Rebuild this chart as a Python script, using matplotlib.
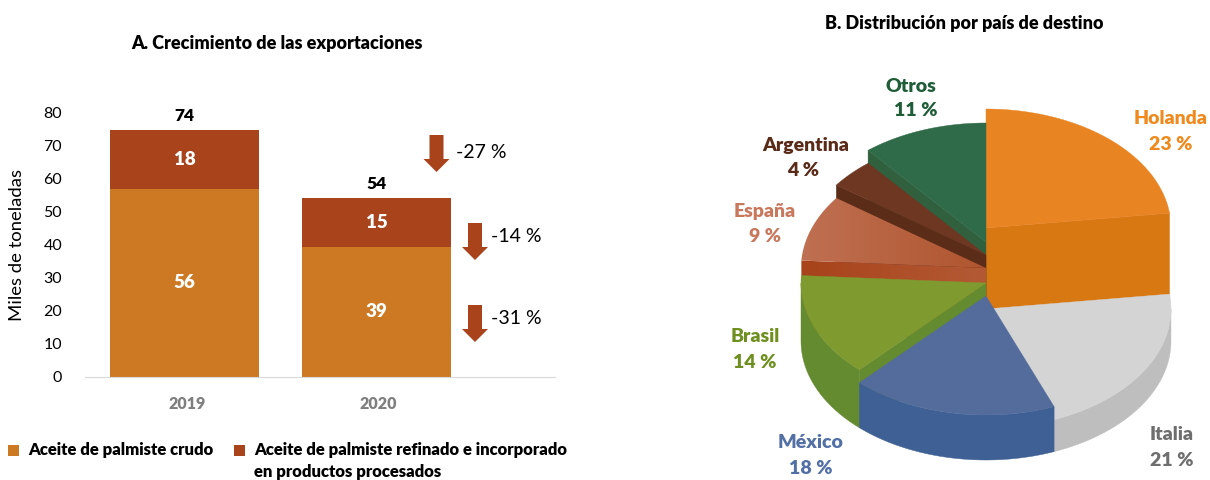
#!/usr/bin/env python3
# exportaciones de aceite de palmiste: barras apiladas y torta 3D
import numpy as np
import matplotlib
matplotlib.use('Agg')
import matplotlib.pyplot as plt
from matplotlib.patches import Polygon, Rectangle, FancyArrow

plt.rcParams['font.family'] = ['Lato', 'DejaVu Sans']

# data panel A
years = ['2019', '2020']
crudo = [56.8, 39.3]
refinado = [17.8, 14.7]
crudo_labels = ['56', '39']
refinado_labels = ['18', '15']
total_labels = ['74', '54']
variaciones = ['-27 %', '-14 %', '-31 %']

# data panel B
paises = ['Holanda', 'Italia', 'México', 'Brasil', 'España', 'Argentina', 'Otros']
shares = [23, 21, 18, 14, 9, 4, 11]

# colours
c_crudo = '#CD7822'
c_refinado = '#A9431C'
top_col = ['#E98423', '#D4D4D4', '#546C9C', '#7F9A2F', '#B9674A', '#6E3722', '#2F6B48']
side_col = ['#D87813', '#BEBEBE', '#3E6094', '#648B2F', '#AE4A22', '#5B2C18', '#31603F']
text_col = ['#EE8A1E', '#6E6E6E', '#5370A6', '#6F9020', '#C8785C', '#5A2A18', '#1F5C38']

W, H = 1210, 480
fig = plt.figure(figsize=(W / 100, H / 100), dpi=100)

# overlay in pixel coords for the pie, titles, legend
ov = fig.add_axes([0, 0, 1, 1])
ov.set_xlim(0, W)
ov.set_ylim(H, 0)
ov.axis('off')

# panel A
left, right, y0, y80 = 85, 555, 377, 112
ax = fig.add_axes([left / W, 1 - y0 / H, (right - left) / W, (y0 - y80) / H])
ax.patch.set_alpha(0)
x = np.arange(len(years))
ax.bar(x, crudo, width=0.776, color=c_crudo)
ax.bar(x, refinado, width=0.776, bottom=crudo, color=c_refinado)
ax.set_xlim(-0.518, 1.93)
ax.set_ylim(0, 80)
ax.set_yticks(range(0, 81, 10))
ax.set_xticks(x + 0.012)
ax.set_xticklabels(years, fontsize=11.5, fontweight='heavy', color='#7F7F7F')
ax.tick_params(axis='both', length=0)
ax.tick_params(axis='y', labelsize=11.5, pad=16.5)
ax.tick_params(axis='x', pad=14)
for s in ['top', 'left', 'right']:
    ax.spines[s].set_visible(False)
ax.spines['bottom'].set_color('#D9D9D9')
ov.text(17, 245, 'Miles de toneladas', rotation=90, fontsize=13.3, ha='center', va='center')

for i in x:
    ax.text(i, crudo[i] / 2, crudo_labels[i], color='white', fontweight='heavy',
            fontsize=13.5, ha='center', va='center')
    ax.text(i, crudo[i] + refinado[i] / 2, refinado_labels[i], color='white', fontweight='heavy',
            fontsize=13.5, ha='center', va='center')
    ax.text(i, crudo[i] + refinado[i] + 1.9, total_labels[i], color='black', fontweight='heavy',
            fontsize=12.5, ha='center', va='bottom')

# arrows next to the bars
arrow_pos = [(436.5, 135, 456, 153), (475, 223, 491, 237), (475, 305, 491, 319)]
for (ax_x, ax_y, tx, ty), lab in zip(arrow_pos, variaciones):
    ov.add_patch(FancyArrow(ax_x, ax_y, 0, 37, width=14, head_width=26, head_length=13,
                            length_includes_head=True, color=c_refinado, lw=0))
    ov.text(tx, ty, lab, fontsize=14, ha='left', va='center')

ov.text(277, 43, 'A. Crecimiento de las exportaciones', fontsize=13, fontweight='heavy',
        ha='center', va='center')
ov.text(964, 24, 'B. Distribución por país de destino', fontsize=13, fontweight='heavy',
        ha='center', va='center')

# legend
ov.add_patch(Rectangle((8, 445), 11, 11, color=c_crudo, lw=0))
ov.add_patch(Rectangle((234, 445), 11, 11, color=c_refinado, lw=0))
ov.text(28, 450, 'Aceite de palmiste crudo', fontsize=12, fontweight='heavy', va='center')
ov.text(254, 450, 'Aceite de palmiste refinado e incorporado', fontsize=12, fontweight='heavy', va='center')
ov.text(254, 472, 'en productos procesados', fontsize=12, fontweight='heavy', va='center')

# panel B: every slice sits on the same base ellipse, top raised stepwise
cx, base_y, rx, ry = 986, 341, 185, 119
apex_y = [228, 309, 296, 283, 268, 255, 242]
draw_order = [0, 6, 5, 4, 3, 1, 2]

edges = np.cumsum([0] + shares) / sum(shares) * 360


def rim(a1, a2, y):
    t = np.radians(np.linspace(a1, a2, 80))
    return np.column_stack([cx + rx * np.sin(t), y - ry * np.cos(t)])


def gradient_fill(poly, c1, c2, zorder):
    # horizontal gradient clipped to the polygon
    patch = Polygon(poly, closed=True, fc='none', ec='none', transform=ov.transData)
    ov.add_patch(patch)
    img = np.array([np.linspace(0, 1, 64)])
    cm = matplotlib.colors.LinearSegmentedColormap.from_list('g', [c1, c2])
    im = ov.imshow(img, extent=[poly[:, 0].min(), poly[:, 0].max(), poly[:, 1].max(), poly[:, 1].min()],
                   cmap=cm, aspect='auto', zorder=zorder)
    im.set_clip_path(patch)
    ov.set_xlim(0, W)
    ov.set_ylim(H, 0)


z = 2
for i in draw_order:
    a1, a2 = edges[i], edges[i + 1]
    ya = apex_y[i]
    h = base_y - ya
    # cut face that looks to the viewer
    face_a = a1 if a1 > 180 else (a2 if a2 < 180 else None)
    if face_a is not None:
        p = rim(face_a, face_a, ya)[0]
        face = np.array([[cx, ya], p, p + [0, h], [cx, ya + h]])
        if paises[i] == 'España':
            gradient_fill(face, '#A8431B', '#B35A34', z)
        else:
            ov.add_patch(Polygon(face, fc=side_col[i], ec=side_col[i], lw=0.3, zorder=z))
    z += 1
    # outer wall
    if a2 > 90 and a1 < 270:
        t1, t2 = max(a1, 90), min(a2, 270)
        wall = np.vstack([rim(t1, t2, ya), rim(t1, t2, base_y)[::-1]])
        ov.add_patch(Polygon(wall, fc=side_col[i], ec=side_col[i], lw=0.3, zorder=z))
    z += 1
    # top
    top = np.vstack([[cx, ya], rim(a1, a2, ya)])
    if paises[i] == 'España':
        gradient_fill(top, '#BF7052', '#B0552F', z)
    else:
        ov.add_patch(Polygon(top, fc=top_col[i], ec=top_col[i], lw=0.3, zorder=z))
    z += 1

# slice labels
label_pos = [(1171, 118, 1171, 144), (1172, 434, 1172, 460), (811, 443, 811, 469),
             (755, 336, 755, 362), (765, 212, 765, 236), (806, 146, 803, 170), (911, 86, 916, 111)]
for i, (x1, y1, x2, y2) in enumerate(label_pos):
    ov.text(x1, y1, paises[i], color=text_col[i], fontsize=14, fontweight='heavy', ha='center', va='center', zorder=50)
    ov.text(x2, y2, '%d %%' % shares[i], color=text_col[i], fontsize=14, fontweight='heavy', ha='center', va='center', zorder=50)

plt.savefig('out.png', dpi=100)
